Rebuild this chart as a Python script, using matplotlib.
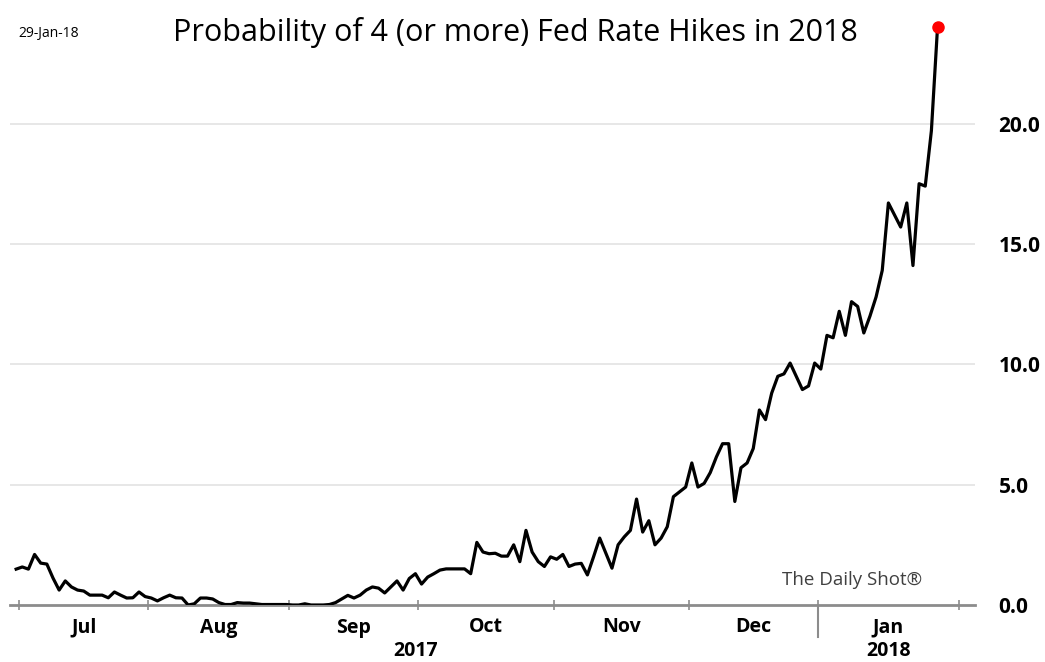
import numpy as np
import pandas as pd
import matplotlib
matplotlib.use("Agg")
from matplotlib import pyplot as plt
import matplotlib.transforms as mtransforms

# Business days shown on the chart (weekday axis)
start_date = "2017-06-30"
end_date = "2018-01-26"

# Probability of 4 (or more) hikes, %, one value per business day
prob = [
    1.49, 1.58, 1.49, 2.10, 1.74, 1.70, 1.12, 0.62, 1.00, 0.75,   # Jun30 - Jul
    0.62, 0.58, 0.41, 0.41, 0.41, 0.30, 0.54, 0.41, 0.29, 0.30,
    0.54, 0.35, 0.29, 0.17, 0.30, 0.41, 0.30, 0.29, 0.00, 0.05,   # Aug
    0.29, 0.29, 0.25, 0.10, 0.02, 0.02, 0.10, 0.08, 0.08, 0.05,
    0.02, 0.02, 0.02, 0.02, 0.02, 0.00, 0.00, 0.05, 0.00, 0.00,   # Sep
    0.00, 0.02, 0.10, 0.25, 0.40, 0.29, 0.41, 0.62, 0.75, 0.70,
    0.50, 0.75, 1.00, 0.62, 1.10, 1.30, 0.87, 1.16, 1.30, 1.45,   # Oct
    1.50, 1.50, 1.50, 1.50, 1.30, 2.60, 2.20, 2.13, 2.15, 2.03,
    2.03, 2.50, 1.80, 3.10, 2.20, 1.80, 1.60, 2.00, 1.90, 2.10,   # Nov
    1.60, 1.70, 1.73, 1.25, 2.00, 2.78, 2.15, 1.53, 2.50, 2.83,
    3.10, 4.40, 3.03, 3.50, 2.50, 2.78, 3.25, 4.50, 4.70, 4.90,
    5.90, 4.90, 5.05, 5.50, 6.15, 6.70, 6.70, 4.30, 5.70, 5.90,   # Dec
    6.50, 8.10, 7.70, 8.80, 9.50, 9.60, 10.05, 9.50, 8.95, 9.10,
    10.05, 9.80, 11.20, 11.10, 12.20, 11.20, 12.60, 12.40, 11.30, 12.00,   # Jan
    12.80, 13.90, 16.70, 16.20, 15.70, 16.70, 14.10, 17.50, 17.40, 19.70,
    24.00,
]

month_names = ["Jul", "Aug", "Sep", "Oct", "Nov", "Dec", "Jan"]
year_labels = ["2017", "2018"]
y_ticks = [0, 5, 10, 15, 20]

title = "Probability of 4 (or more) Fed Rate Hikes in 2018"
date_stamp = "29-Jan-18"
source = "The Daily Shot®"

plt.rcParams["font.family"] = ["Open Sans", "DejaVu Sans"]

dates = pd.bdate_range(start_date, end_date)
x = np.arange(len(dates))

# Month boundaries on the weekday axis
full = pd.bdate_range(start_date, "2018-02-28")
months = pd.period_range("2017-07", "2018-02", freq="M")
bounds = [np.argmax(full.to_period("M") == m) - 0.5 for m in months]
mids = [(bounds[i] + bounds[i + 1]) / 2 for i in range(len(bounds) - 1)]

fig = plt.figure(figsize=(10.45, 6.62), dpi=100)
ax = fig.add_axes([10 / 1045, 57 / 662, 965 / 1045, 585 / 662])

ax.plot(x, prob, color="black", lw=2.3, solid_joinstyle="round", zorder=3)
ax.plot(x[-1], prob[-1], "o", color="#ff0000", ms=8, zorder=4)

ax.set_xlim(-1, 156.1)
ax.set_ylim(0, 24.3)

# Grid lines
for v in y_ticks[1:]:
    ax.axhline(v, color="#e3e3e3", lw=1.2, zorder=1)

for s in ["top", "right", "left"]:
    ax.spines[s].set_visible(False)
ax.spines["bottom"].set_color("#8c8c8c")
ax.spines["bottom"].set_linewidth(2)

ax.yaxis.tick_right()
ax.set_yticks(y_ticks)
ax.set_yticklabels([f"{v:.1f}" for v in y_ticks], fontsize=15, fontweight="bold")
ax.tick_params(axis="y", length=0, pad=17)

ax.set_xticks(mids)
ax.set_xticklabels(month_names, fontsize=14, fontweight="bold")
ax.set_xticks(bounds, minor=True)
ax.tick_params(axis="x", which="major", length=0, pad=9)
ax.tick_params(axis="x", which="minor", direction="inout", length=7,
               width=1.2, color="#8c8c8c")

trans = mtransforms.blended_transform_factory(ax.transData, ax.transAxes)
# Year separator
ax.plot([bounds[6], bounds[6]], [0, -0.055], color="#8c8c8c", lw=1.5,
        transform=trans, clip_on=False)
ax.text((bounds[0] - 1 + bounds[6]) / 2, -0.079, year_labels[0], transform=trans,
        ha="center", va="center", fontsize=14, fontweight="bold")
ax.text(mids[6], -0.079, year_labels[1], transform=trans,
        ha="center", va="center", fontsize=14, fontweight="bold")

fig.text(515 / 1045, 1 - 33 / 662, title, ha="center", va="center", fontsize=22)
fig.text(18 / 1045, 1 - 33 / 662, date_stamp, ha="left", va="center", fontsize=10)
fig.text(922 / 1045, 1 - 580 / 662, source, ha="right", va="center",
         fontsize=13.5, color="#404040")

fig.savefig("out.png", dpi=100)
